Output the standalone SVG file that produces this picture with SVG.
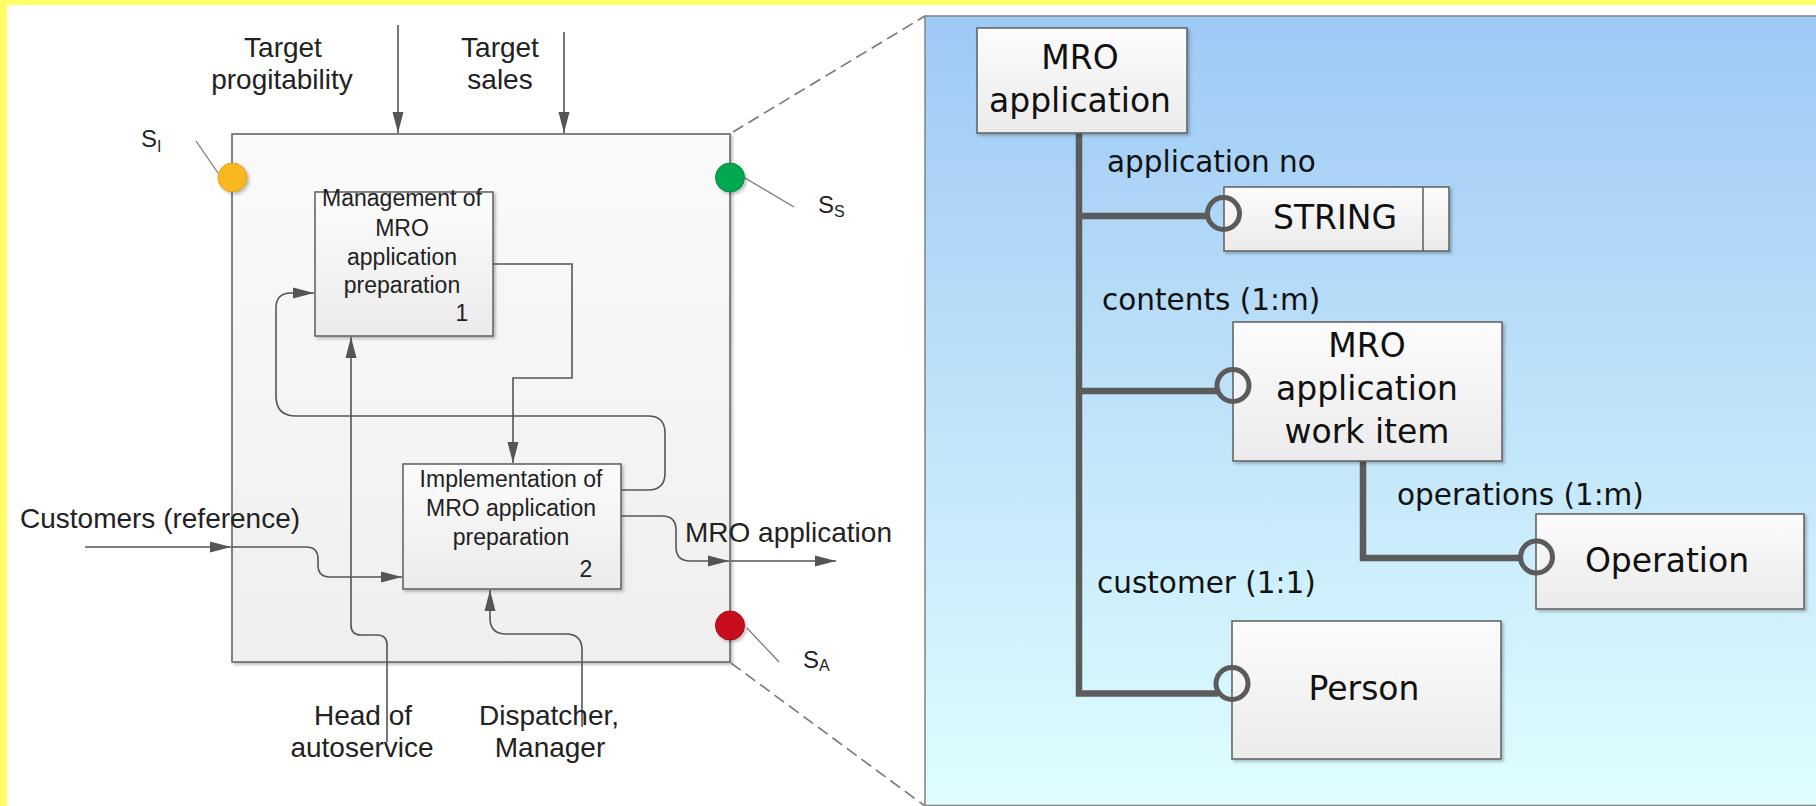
<svg xmlns="http://www.w3.org/2000/svg" width="1816" height="806" viewBox="0 0 1816 806">
<defs>
<style>
.lt{font-family:"Liberation Sans",Arial,sans-serif;fill:#222;}
.big{font-size:28px;}
.bx{font-size:23px;}
.ss{font-size:24px;}
.sub{font-size:16px;}
.rt{font-family:"DejaVu Sans","Liberation Sans",sans-serif;fill:#111;}
.rb{font-size:33px;}
.rl{font-size:29.5px;}
.conn{fill:none;stroke:#555;stroke-width:1.6;}
.pin{fill:none;stroke:#777;stroke-width:1.2;}
.dash{fill:none;stroke:#777;stroke-width:1.6;stroke-dasharray:12 6;}
.thick{fill:none;stroke:#5b5b5b;stroke-width:6.5;}
.ring{fill:none;stroke:#5b5b5b;stroke-width:5;}
.box{fill:url(#boxg);stroke:#666;stroke-width:1.6;}
</style>
<linearGradient id="boxg" x1="0" y1="0" x2="0" y2="1">
<stop offset="0" stop-color="#fcfcfc"/>
<stop offset="1" stop-color="#ebebeb"/>
</linearGradient>
<linearGradient id="outerg" x1="0" y1="0" x2="0" y2="1">
<stop offset="0" stop-color="#fafafa"/>
<stop offset="1" stop-color="#efefef"/>
</linearGradient>
<linearGradient id="bluebg" x1="0" y1="0" x2="0" y2="1">
<stop offset="0" stop-color="#9dc9f5"/>
<stop offset="0.5" stop-color="#bfe3f9"/>
<stop offset="1" stop-color="#e0feff"/>
</linearGradient>
<filter id="sh" x="-10%" y="-10%" width="130%" height="130%">
<feDropShadow dx="2" dy="2" stdDeviation="1.5" flood-color="#000" flood-opacity="0.25"/>
</filter>
<marker id="arr" markerUnits="userSpaceOnUse" markerWidth="22" markerHeight="12" refX="21" refY="6" orient="auto">
<path d="M0,0.5 L21,6 L0,11.5 z" fill="#555"/>
</marker>
</defs>

<!-- background -->
<rect x="0" y="0" width="1816" height="806" fill="#ffff66"/>
<rect x="7" y="5" width="1809" height="801" fill="#ffffff"/>

<!-- left IDEF0 context -->
<g id="context-box">
<rect x="232" y="134" width="498" height="528" fill="url(#outerg)" stroke="#666" stroke-width="1.6" filter="url(#sh)"/>
</g>

<g id="dashed-zoom">
<path class="dash" d="M733,132 L925,16"/>
<path class="dash" d="M731,663 L925,806"/>
</g>

<g id="node-1">
<rect class="box" x="315" y="192" width="178" height="144" filter="url(#sh)"/>
<text class="lt bx" text-anchor="middle" x="402" y="206">Management of</text>
<text class="lt bx" text-anchor="middle" x="402" y="236">MRO</text>
<text class="lt bx" text-anchor="middle" x="402" y="265">application</text>
<text class="lt bx" text-anchor="middle" x="402" y="293">preparation</text>
<text class="lt bx" text-anchor="middle" x="462" y="321">1</text>
</g>

<g id="node-2">
<rect class="box" x="403" y="464" width="218" height="125" filter="url(#sh)"/>
<text class="lt bx" text-anchor="middle" x="511" y="487">Implementation of</text>
<text class="lt bx" text-anchor="middle" x="511" y="516">MRO application</text>
<text class="lt bx" text-anchor="middle" x="511" y="545">preparation</text>
<text class="lt bx" text-anchor="middle" x="586" y="577">2</text>
</g>

<g id="connectors-left">
<path class="conn" d="M398,25 V133" marker-end="url(#arr)"/>
<path class="conn" d="M564,32 V133" marker-end="url(#arr)"/>
<path class="conn" d="M85,547 H231" marker-end="url(#arr)"/>
<path class="conn" d="M232,547 H306 Q318,547 318,559 V565 Q318,577 330,577 H402" marker-end="url(#arr)"/>
<path class="conn" d="M621,516 H662 Q676,516 676,530 V547 Q676,561 690,561 H729" marker-end="url(#arr)"/>
<path class="conn" d="M731,561 H836" marker-end="url(#arr)"/>
<path class="conn" d="M493,264 H572 V378 H513 V463" marker-end="url(#arr)"/>
<path class="conn" d="M621,490 H648 Q665,490 665,473 V433 Q665,416 648,416 H296 Q276,416 276,396 V308 Q276,293 291,293 H314" marker-end="url(#arr)"/>
<path class="conn" d="M387,742 V645 Q387,635 377,635 H361 Q351,635 351,625 V337" marker-end="url(#arr)"/>
<path class="conn" d="M582,727 V650 Q582,634 566,634 H506 Q490,634 490,618 V590" marker-end="url(#arr)"/>
<path class="pin" d="M196,141 L218,173"/>
<path class="pin" d="M745,178 L794,207"/>
<path class="pin" d="M747,628 L779,662"/>
</g>

<g id="labels-left">
<text class="lt big" text-anchor="middle" x="283" y="57">Target</text>
<text class="lt big" text-anchor="middle" x="282" y="89">progitability</text>
<text class="lt big" text-anchor="middle" x="500" y="57">Target</text>
<text class="lt big" text-anchor="middle" x="500" y="89">sales</text>
<text class="lt big" x="20" y="528">Customers (reference)</text>
<text class="lt big" x="685" y="542">MRO application</text>
<text class="lt big" text-anchor="middle" x="363" y="725">Head of</text>
<text class="lt big" text-anchor="middle" x="362" y="757">autoservice</text>
<text class="lt big" text-anchor="middle" x="549" y="725">Dispatcher,</text>
<text class="lt big" text-anchor="middle" x="550" y="757">Manager</text>
</g>

<g id="status-I">
<circle cx="232.5" cy="177.5" r="14.5" fill="#f9b723" stroke="#dca01c" stroke-width="1" filter="url(#sh)"/>
<text class="lt ss" x="141" y="147">S<tspan class="sub" dy="5">I</tspan></text>
</g>
<g id="status-S">
<circle cx="730" cy="177.5" r="14.5" fill="#00a84f" stroke="#008a40" stroke-width="1" filter="url(#sh)"/>
<text class="lt ss" x="818" y="213">S<tspan class="sub" dy="4">S</tspan></text>
</g>
<g id="status-A">
<circle cx="730" cy="625.5" r="14.5" fill="#c8101a" stroke="#a00c14" stroke-width="1" filter="url(#sh)"/>
<text class="lt ss" x="803" y="668">S<tspan class="sub" dy="3">A</tspan></text>
</g>

<!-- right panel -->
<g id="panel">
<rect x="925" y="16" width="893" height="789.5" fill="url(#bluebg)" stroke="#888" stroke-width="1.6"/>
</g>

<g id="connectors-right">
<path class="thick" d="M1079,133 V693.5 H1218"/>
<path class="thick" d="M1079,216 H1207"/>
<path class="thick" d="M1079,391 H1217"/>
<path class="thick" d="M1363,461 V558 H1520"/>
</g>

<g id="mro-application">
<rect class="box" x="977" y="28" width="210" height="105" filter="url(#sh)"/>
<text class="rt rb" text-anchor="middle" x="1080" y="69">MRO</text>
<text class="rt rb" text-anchor="middle" x="1080" y="112">application</text>
</g>

<g id="string">
<rect class="box" x="1224" y="187" width="225" height="64" filter="url(#sh)"/>
<line x1="1423" y1="187" x2="1423" y2="251" stroke="#666" stroke-width="1.6"/>
<text class="rt rb" text-anchor="middle" x="1335" y="229">STRING</text>
<circle class="ring" cx="1223.5" cy="213.5" r="16"/>
</g>

<g id="work-item">
<rect class="box" x="1233" y="322" width="269" height="139" filter="url(#sh)"/>
<text class="rt rb" text-anchor="middle" x="1367" y="357">MRO</text>
<text class="rt rb" text-anchor="middle" x="1367" y="400">application</text>
<text class="rt rb" text-anchor="middle" x="1367" y="443">work item</text>
<circle class="ring" cx="1233" cy="385.5" r="16"/>
</g>

<g id="operation">
<rect class="box" x="1536" y="514" width="268" height="95" filter="url(#sh)"/>
<text class="rt rb" text-anchor="middle" x="1667" y="572">Operation</text>
<circle class="ring" cx="1536.5" cy="557" r="16"/>
</g>

<g id="person">
<rect class="box" x="1232" y="621" width="269" height="138" filter="url(#sh)"/>
<text class="rt rb" text-anchor="middle" x="1364" y="700">Person</text>
<circle class="ring" cx="1232" cy="683.5" r="16"/>
</g>

<g id="labels-right">
<text class="rt rl" x="1107" y="172">application no</text>
<text class="rt rl" x="1102" y="310">contents (1:m)</text>
<text class="rt rl" x="1397" y="505">operations (1:m)</text>
<text class="rt rl" x="1097" y="593">customer (1:1)</text>
</g>
</svg>
